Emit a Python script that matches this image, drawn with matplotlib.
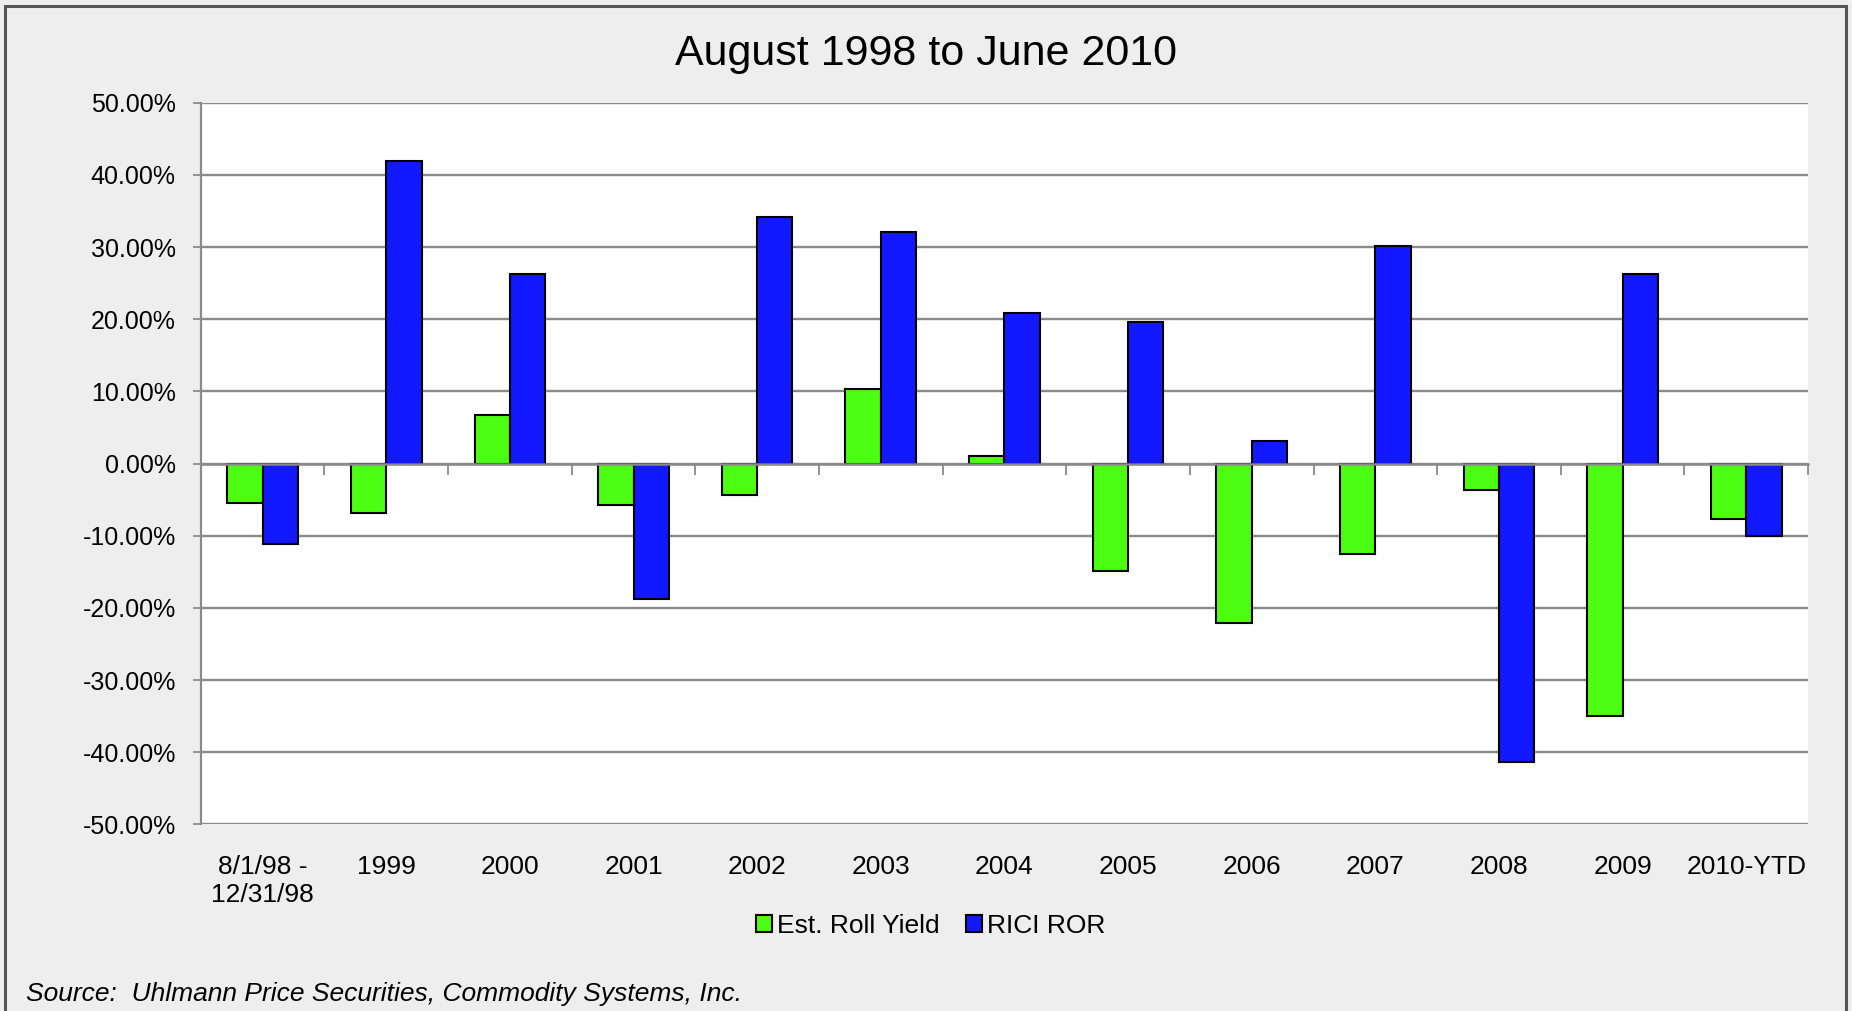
import numpy as np
import matplotlib.pyplot as plt
from matplotlib.patches import Rectangle
from matplotlib.ticker import FuncFormatter, FixedLocator

plt.rcParams['font.family'] = ['Liberation Sans', 'DejaVu Sans']

categories = ['8/1/98 -\n12/31/98', '1999', '2000', '2001', '2002', '2003', '2004',
              '2005', '2006', '2007', '2008', '2009', '2010-YTD']
roll_yield = [-5.4, -6.9, 6.7, -5.7, -4.3, 10.3, 1.0, -14.9, -22.1, -12.6, -3.6, -35.0, -7.7]
rici_ror = [-11.1, 41.9, 26.2, -18.8, 34.2, 32.1, 20.9, 19.6, 3.1, 30.1, -41.4, 26.3, -10.0]

GREEN, BLUE, BG = '#4CFF12', '#1218FF', '#EEEEEE'

fig = plt.figure(figsize=(18.52, 10.11), dpi=100, facecolor=BG)
# frame around the whole chart
fig.patches.append(Rectangle((5 / 1852, -0.05), 1841 / 1852, 1 - 6 / 1011 + 0.05,
                             transform=fig.transFigure, fill=False,
                             edgecolor='#555555', linewidth=2.2))

ax = fig.add_axes([0.1084, 0.1846, 0.8679, 0.7138])
ax.set_facecolor('white')

x = np.arange(len(categories))
w = 1 / 3.5
ax.bar(x - w / 2, roll_yield, w, color=GREEN, edgecolor='black', linewidth=1.5,
       label='Est. Roll Yield', zorder=3)
ax.bar(x + w / 2, rici_ror, w, color=BLUE, edgecolor='black', linewidth=1.5,
       label='RICI ROR', zorder=3)

ax.set_xlim(-0.5, len(categories) - 0.5)
ax.set_ylim(-50, 50)
ax.set_yticks(np.arange(-50, 51, 10))
ax.yaxis.set_major_formatter(FuncFormatter(lambda v, p: f'{v:.2f}%'))
ax.grid(axis='y', color='#8A8A8A', linewidth=1.7, zorder=1)
ax.tick_params(axis='y', direction='out', length=6, width=1.3, color='#8A8A8A',
               labelsize=18, pad=12)

# category axis runs along zero, labels sit under the plot
for side in ('top', 'right'):
    ax.spines[side].set_visible(False)
ax.spines['left'].set_color('#8A8A8A')
ax.spines['left'].set_linewidth(1.6)
ax.spines['bottom'].set_position(('data', 0))
ax.spines['bottom'].set_color('#8A8A8A')
ax.spines['bottom'].set_linewidth(1.8)
ax.spines['bottom'].set_zorder(4)
ax.xaxis.set_major_locator(FixedLocator(np.arange(len(categories) + 1) - 0.5))
ax.tick_params(axis='x', direction='out', length=8, width=1.3, color='#8A8A8A',
               labelbottom=False)
for xi, lab in zip(x, categories):
    ax.text(xi, -0.042, lab, transform=ax.get_xaxis_transform(), ha='center', va='top',
            fontsize=19, linespacing=1.25)

fig.text(0.5, 0.947, 'August 1998 to June 2010', ha='center', va='center', fontsize=31)

fig.legend(loc='center', bbox_to_anchor=(0.5027, 0.0845), ncol=2, frameon=False,
           fontsize=19, handlelength=0.6, handleheight=0.6, handletextpad=0.2,
           columnspacing=1.0)

fig.text(26 / 1852, 1 - 994 / 1011, 'Source:  Uhlmann Price Securities, Commodity Systems, Inc.',
         ha='left', va='center', fontsize=19, style='italic')

fig.savefig('out.png', dpi=100, facecolor=BG)
